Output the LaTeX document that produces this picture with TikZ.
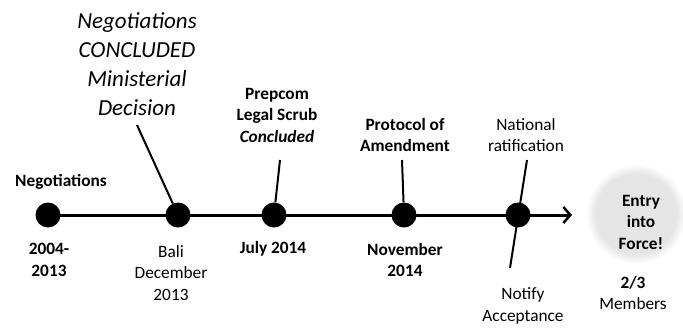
\documentclass[tikz,border=0pt]{standalone}
\usepackage{fontspec}
\setmainfont{Carlito}
\usetikzlibrary{arrows.meta,fadings}
\begin{document}
\begin{tikzpicture}[x=1pt,y=-1pt,
  lbl/.style={align=center,inner sep=0pt,font=\fontsize{17.3}{21.5}\selectfont},
  lblb/.style={lbl,font=\fontsize{17.3}{21.5}\selectfont\bfseries},
  big/.style={align=center,inner sep=0pt,font=\fontsize{23}{29}\selectfont\itshape},
  event/.style={circle,fill=black,minimum size=25pt,inner sep=0pt},
  leader/.style={line width=2pt},
  axis/.style={line width=3pt,-{Straight Barb[length=7pt,width=16pt,line width=2.5pt]}}]
\useasboundingbox (0,0) rectangle (683,327);

% soft glow behind the final milestone
\fill[gray!20,path fading=circle with fuzzy edge 20 percent] (636,214) circle (50);

% timeline axis
\coordinate (tip) at (572,215);
\coordinate (d1c) at (48,215);
\draw[axis] (d1c) -- (tip);

% leader line anchors
\coordinate (c2) at (137,125);
\coordinate (c3) at (280,160);
\coordinate (c4) at (402,160);
\coordinate (c5a) at (527,160);
\coordinate (c5b) at (510,268);

% timeline events
\node[event] (d1) at (48,215) {};
\node[event] (d2) at (178,215) {};
\node[event] (d3) at (274,215) {};
\node[event] (d4) at (404,215) {};
\node[event] (d5) at (518,215) {};

\draw[leader] (c2) -- (d2);
\draw[leader] (c3) -- (d3);
\draw[leader] (c4) -- (d4);
\draw[leader] (c5a) -- (c5b);

% labels above the line
\node[big] (top2) at (137,64) {Negotiations\\CONCLUDED\\Ministerial\\Decision};
\node[lblb] (top3) at (277,115) {Prepcom\\Legal Scrub\\\textit{Concluded}};
\node[lblb] (top4) at (405,135) {Protocol of\\Amendment};
\node[lbl] (top5) at (526,135) {National\\ratification};
\node[lblb] (top1) at (61,182) {Negotiations};

% labels below the line
\node[lblb] (bot1) at (49,260) {2004-\\2013};
\node[lbl] (bot2) at (171,273) {Bali\\December\\2013};
\node[lblb] (bot3) at (273,249) {July 2014};
\node[lblb] (bot4) at (405,260) {November\\2014};
\node[lbl] (bot5) at (523,306) {Notify\\Acceptance};

% entry into force
\node[lblb] (eif) at (641,222) {Entry\\into\\Force!};
\node[lbl] (mem) at (633,293) {\textbf{2/3}\\Members};
\end{tikzpicture}
\end{document}
